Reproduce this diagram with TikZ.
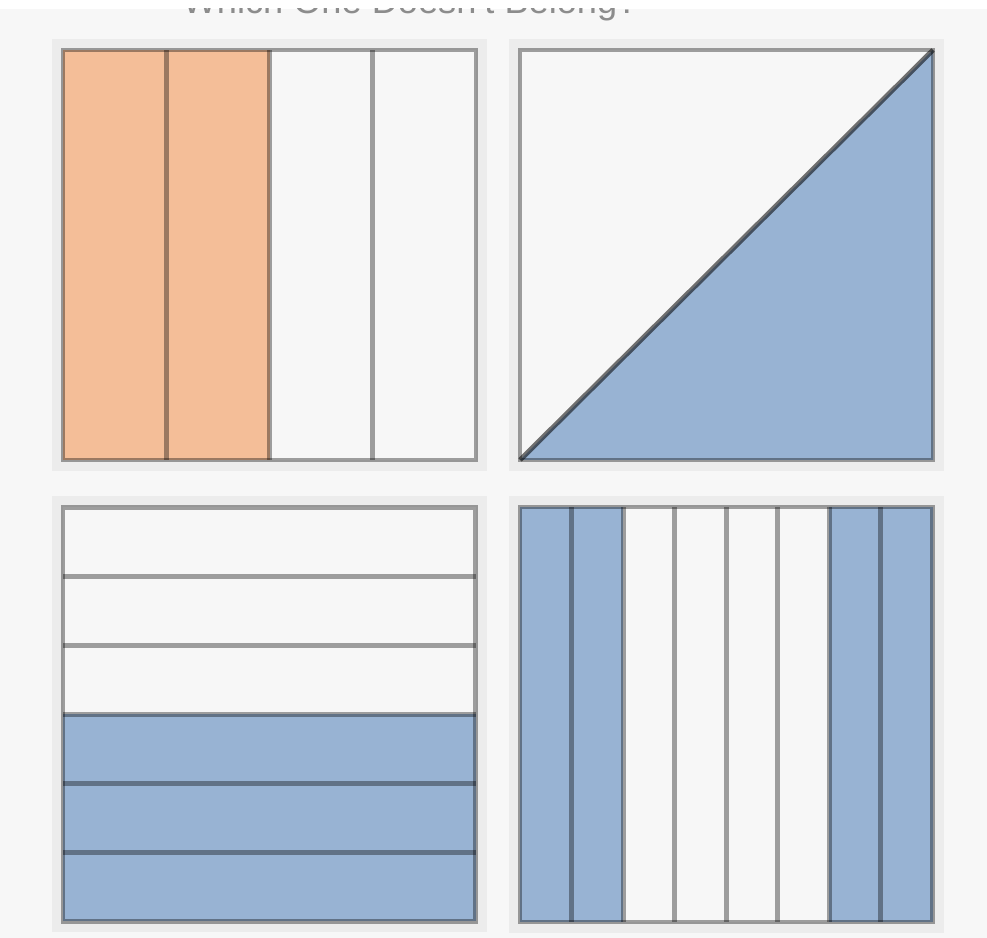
\documentclass[tikz,border=0pt]{standalone}
\usepackage{fontspec}
\setmainfont{Liberation Sans}
\usepackage{xcolor}
\usepackage{tikz}
\definecolor{WOPeach}{RGB}{244,190,152}
\definecolor{WOBlue}{RGB}{152,179,211}
\definecolor{WOPaper}{RGB}{247,247,247}
\definecolor{WOHalo}{RGB}{236,236,236}
\definecolor{WOGrey}{RGB}{140,140,140}

\begin{document}
\begin{tikzpicture}[
          grid/.style={draw=black, draw opacity=0.36, line width=1.4pt},
          diag/.style={grid, draw opacity=0.55},
          halo/.style={fill=WOHalo},
          title/.style={font=\fontsize{10.3}{12}\selectfont, text=WOGrey,
                        inner sep=0pt}
        ]
        % Page
        \fill[WOPaper] (0,0) rectangle (9.87,9.38);
        \useasboundingbox (0,0) rectangle (9.87,9.38);
        \fill[white] (0,9.29) rectangle (9.87,9.38);

        % Title, only its lowest edge shows
        \begin{scope}
          \clip (0,9.10) rectangle (9.87,9.29);
          \node[title, anchor=base west] (title) at (1.82,9.24)
                {Which One Doesn't Belong?};
        \end{scope}

        % Halos round the panels
        \fill[halo] (0.52,4.67) rectangle (4.87,8.99);
        \fill[halo] (5.09,4.67) rectangle (9.44,8.99);
        \fill[halo] (0.52,0.06) rectangle (4.87,4.42);
        \fill[halo] (5.09,0.05) rectangle (9.44,4.42);
        \fill[WOPaper] (0.63,4.78) rectangle (4.76,8.88);
        \fill[WOPaper] (5.20,4.78) rectangle (9.33,8.88);
        \fill[WOPaper] (0.63,0.165) rectangle (4.755,4.305);
        \fill[WOPaper] (5.20,0.16) rectangle (9.325,4.31);

        % Top left: four columns, two shaded
        \fill[WOPeach] (0.63,4.78) rectangle (2.695,8.88);
        \foreach \x in {1.6625, 2.695, 3.7275}
          \draw[grid] (\x,4.78) -- (\x,8.88);
        \draw[grid] (0.63,4.78) rectangle (4.76,8.88);

        % Top right: half cut on the diagonal
        \fill[WOBlue] (5.20,4.78) -- (9.33,4.78) -- (9.33,8.88) -- cycle;
        \draw[diag] (5.20,4.78) -- (9.33,8.88);
        \draw[grid] (5.20,4.78) rectangle (9.33,8.88);

        % Bottom left: six rows, three shaded
        \fill[WOBlue] (0.63,0.165) rectangle (4.755,2.235);
        \foreach \y in {0.855, 1.545, 2.235, 2.925, 3.615}
          \draw[grid] (0.63,\y) -- (4.755,\y);
        \draw[grid] (0.63,0.165) rectangle (4.755,4.305);

        % Bottom right: eight columns, four shaded
        \fill[WOBlue] (5.20,0.16) rectangle (6.231,4.31);
        \fill[WOBlue] (8.294,0.16) rectangle (9.325,4.31);
        \foreach \i in {1,...,7}
          \draw[grid] ({5.20+0.515625*\i},0.16) -- ++(0,4.15);
        \draw[grid] (5.20,0.16) rectangle (9.325,4.31);
      \end{tikzpicture}
\end{document}
